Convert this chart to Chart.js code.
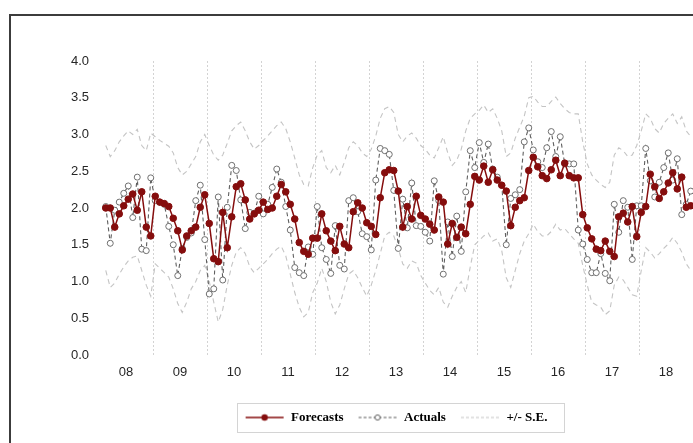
<!DOCTYPE html>
<html>
<head>
<meta charset="utf-8">
<script src="https://cdn.jsdelivr.net/npm/chart.js@4.4.1/dist/chart.umd.min.js"></script>
<style>
  html, body { margin: 0; padding: 0; background: #fff; overflow: hidden; width: 693px; height: 443px; }
  #frame { position: absolute; left: 9px; top: 14px; width: 900px; height: 600px; border: 2px solid #3c3c3c; box-sizing: border-box; pointer-events: none; }
  #wrap { position: absolute; left: 0; top: 0; width: 792px; height: 443px; }
</style>
</head>
<body>
<div id="wrap"><canvas id="c"></canvas></div>
<div id="frame"></div>
<script>
// Year tick labels (monthly data, Feb 2008 .. Dec 2018)
const yearLabels = ['08','09','10','11','12','13','14','15','16','17','18'];
const firstMonth = 1; // month index of first value (0 = Jan 2008)

const forecasts = [
  2.00, 2.00, 1.74, 1.92, 2.03, 2.12, 2.19, 1.97, 2.22, 1.74, 1.62,
  2.16, 2.08, 2.06, 2.02, 1.86, 1.69, 1.43, 1.62, 1.69, 1.74, 2.01, 2.18,
  1.79, 1.31, 1.27, 1.94, 1.46, 1.88, 2.29, 2.33, 2.11, 1.85, 1.92, 1.97,
  2.08, 1.98, 2.00, 2.16, 2.32, 2.22, 2.05, 1.85, 1.53, 1.41, 1.37, 1.59,
  1.59, 1.92, 1.69, 1.55, 1.42, 1.75, 1.51, 1.46, 1.95, 2.07, 2.00, 1.80,
  1.75, 1.64, 2.14, 2.48, 2.52, 2.51, 2.23, 1.74, 2.02, 1.85, 2.16, 1.90,
  1.85, 1.78, 1.70, 2.15, 2.08, 1.51, 1.79, 1.60, 1.74, 1.65, 2.05, 2.43,
  2.38, 2.57, 2.35, 2.52, 2.38, 2.31, 2.23, 1.76, 2.01, 2.10, 2.14, 2.51,
  2.69, 2.56, 2.44, 2.40, 2.52, 2.65, 2.44, 2.61, 2.44, 2.41, 2.41, 1.91,
  1.73, 1.58, 1.44, 1.42, 1.55, 1.41, 1.34, 1.88, 1.93, 1.81, 2.02, 1.61,
  1.94, 2.02, 2.46, 2.29, 2.13, 2.22, 2.34, 2.48, 2.26, 2.42, 2.01, 2.03
];

const actuals = [
  2.02, 1.52, 1.97, 2.08, 2.20, 2.30, 1.87, 2.42, 1.44, 1.42, 2.41,
  2.10, 2.08, 2.05, 1.75, 1.50, 1.08, 1.45, 1.60, 1.66, 2.10, 2.31, 1.57,
  0.83, 0.90, 2.15, 1.02, 2.01, 2.58, 2.51, 2.11, 1.72, 1.94, 1.93, 2.16,
  1.92, 2.05, 2.28, 2.53, 2.35, 2.02, 1.70, 1.19, 1.12, 1.08, 1.47, 1.37,
  2.02, 1.46, 1.30, 1.11, 1.76, 1.22, 1.17, 2.10, 2.14, 1.95, 1.65, 1.61,
  1.43, 2.38, 2.81, 2.78, 2.73, 2.24, 1.45, 2.12, 1.73, 2.34, 1.76, 1.75,
  1.67, 1.55, 2.37, 2.10, 1.10, 1.81, 1.34, 1.89, 1.41, 2.22, 2.78, 2.55,
  2.89, 2.62, 2.87, 2.53, 2.42, 2.31, 1.50, 2.13, 2.18, 2.25, 2.90, 3.09,
  2.79, 2.63, 2.55, 2.82, 3.04, 2.70, 2.97, 2.60, 2.60, 2.60, 1.70, 1.51,
  1.30, 1.12, 1.12, 1.38, 1.11, 1.01, 2.05, 1.67, 2.10, 2.01, 1.30, 2.03,
  2.03, 2.81, 2.37, 2.15, 2.35, 2.55, 2.75, 2.38, 2.67, 1.91, 2.05, 2.23
];

const seUpper = [
  2.85, 2.70, 2.78, 2.90, 2.98, 3.05, 3.00, 3.07, 2.85, 2.78, 3.02,
  2.97, 2.92, 2.88, 2.84, 2.75, 2.55, 2.45, 2.50, 2.60, 2.70, 2.90, 3.00,
  2.85, 2.72, 2.65, 2.72, 2.88, 3.05, 3.12, 3.17, 3.05, 2.90, 2.80, 2.85,
  2.92, 2.98, 3.05, 3.12, 3.17, 3.08, 2.90, 2.68, 2.45, 2.32, 2.30, 2.55,
  2.72, 2.78, 2.55, 2.48, 2.58, 2.45, 2.62, 2.82, 2.90, 2.85, 2.75, 2.70,
  2.80, 2.98, 3.22, 3.35, 3.38, 3.30, 3.00, 2.90, 2.98, 3.02, 2.95, 2.85,
  2.80, 2.72, 2.68, 2.82, 2.97, 2.75, 2.58, 2.65, 2.80, 3.05, 3.22, 3.28,
  3.33, 3.40, 3.30, 3.35, 3.22, 3.05, 2.70, 2.75, 2.95, 3.10, 3.25, 3.50,
  3.52, 3.44, 3.38, 3.38, 3.45, 3.51, 3.42, 3.35, 3.30, 3.28, 3.28, 2.90,
  2.60, 2.45, 2.38, 2.32, 2.28, 2.35, 2.72, 2.82, 2.78, 2.70, 2.72, 2.85,
  3.05, 3.28, 3.22, 3.08, 3.02, 3.15, 3.22, 3.28, 3.15, 3.24, 3.05, 2.97
];

const seLower = [
  1.15, 0.92, 0.98, 1.10, 1.20, 1.28, 1.33, 1.35, 1.15, 0.95, 0.80,
  1.24, 1.18, 1.12, 1.06, 0.90, 0.70, 0.58, 0.72, 0.90, 1.00, 1.15, 1.22,
  1.00, 0.72, 0.45, 0.62, 0.95, 1.22, 1.40, 1.46, 1.38, 1.20, 1.12, 1.18,
  1.24, 1.30, 1.38, 1.44, 1.48, 1.35, 1.10, 0.85, 0.65, 0.52, 0.58, 0.85,
  0.98, 1.18, 1.00, 0.72, 0.56, 0.68, 0.90, 1.10, 1.15, 1.05, 0.92, 0.80,
  0.95, 1.15, 1.38, 1.62, 1.67, 1.62, 1.45, 1.24, 1.18, 1.28, 1.25, 1.08,
  0.98, 0.88, 0.82, 0.92, 0.72, 0.65, 0.80, 0.92, 1.00, 0.85, 1.20, 1.50,
  1.56, 1.62, 1.66, 1.55, 1.58, 1.42, 1.05, 0.92, 1.15, 1.38, 1.55, 1.65,
  1.78, 1.68, 1.62, 1.62, 1.68, 1.78, 1.70, 1.72, 1.65, 1.58, 1.52, 1.22,
  0.95, 0.72, 0.68, 0.65, 0.55, 0.60, 0.95, 1.06, 1.02, 0.92, 0.82, 0.80,
  1.15, 1.46, 1.40, 1.32, 1.38, 1.45, 1.51, 1.60, 1.52, 1.40, 1.24, 1.15
];

const RED = '#850d0d';
const GREY = '#5f5f5f';
const LIGHT = '#c4c4c4';

const toXY = arr => arr.map((v, i) => ({ x: i + firstMonth, y: v }));
const nMonths = yearLabels.length * 12;

function symbol(kind) {
  const c = document.createElement('canvas');
  c.width = 40; c.height = 10;
  const g = c.getContext('2d');
  g.beginPath();
  if (kind === 'f') {
    g.strokeStyle = RED; g.lineWidth = 1.6;
    g.moveTo(1, 5); g.lineTo(39, 5); g.stroke();
    g.beginPath(); g.fillStyle = RED; g.arc(20, 5, 3.2, 0, Math.PI * 2); g.fill();
  } else if (kind === 'a') {
    g.strokeStyle = GREY; g.lineWidth = 1; g.setLineDash([3, 2]);
    g.moveTo(1, 5); g.lineTo(39, 5); g.stroke();
    g.setLineDash([]);
    g.beginPath(); g.fillStyle = '#fff'; g.arc(20, 5, 2.6, 0, Math.PI * 2); g.fill(); g.stroke();
  } else {
    g.strokeStyle = LIGHT; g.lineWidth = 1; g.setLineDash([3, 2]);
    g.moveTo(1, 5); g.lineTo(39, 5); g.stroke();
  }
  return c;
}
const symF = symbol('f'), symA = symbol('a'), symS = symbol('s');

const legendBox = {
  id: 'legendBox',
  afterDraw(chart) {
    const lg = chart.legend;
    if (!lg || !lg.legendHitBoxes || !lg.legendHitBoxes.length) return;
    const hb = lg.legendHitBoxes;
    const l = Math.min(...hb.map(h => h.left)) - 8;
    const r = Math.max(...hb.map(h => h.left + h.width)) + 16;
    const t = Math.min(...hb.map(h => h.top)) - 8;
    const b = Math.max(...hb.map(h => h.top + h.height)) + 8;
    const ctx = chart.ctx;
    ctx.save();
    ctx.strokeStyle = '#d4d4d4';
    ctx.lineWidth = 1;
    ctx.strokeRect(Math.round(l) + 0.5, Math.round(t) + 0.5, Math.round(r - l), Math.round(b - t));
    ctx.restore();
  }
};

new Chart(document.getElementById('c'), {
  type: 'line',
  data: {
    datasets: [
      {
        label: 'Forecasts', data: toXY(forecasts),
        borderColor: RED, backgroundColor: RED, borderWidth: 1.5,
        pointRadius: 3.3, pointBackgroundColor: RED, pointBorderColor: RED, pointBorderWidth: 1,
        tension: 0
      },
      {
        label: 'Actuals', data: toXY(actuals),
        borderColor: GREY, borderWidth: 1.1, borderDash: [4, 3],
        pointRadius: 3, pointBackgroundColor: '#ffffff', pointBorderColor: '#707070', pointBorderWidth: 1,
        tension: 0
      },
      {
        label: '+/- S.E.', data: toXY(seUpper),
        borderColor: LIGHT, borderWidth: 1.1, borderDash: [5, 4], pointRadius: 0, tension: 0
      },
      {
        label: '+/- S.E. lower', data: toXY(seLower),
        borderColor: LIGHT, borderWidth: 1.1, borderDash: [5, 4], pointRadius: 0, tension: 0
      }
    ]
  },
  options: {
    responsive: true,
    maintainAspectRatio: false,
    animation: false,
    layout: { padding: { left: 0, right: 0, top: 61, bottom: 9 } },
    plugins: {
      tooltip: { enabled: false },
      legend: {
        position: 'bottom',
        align: 'center',
        onClick: null,
        labels: {
          usePointStyle: true,
          pointStyleWidth: 40,
          padding: 14,
          color: '#000',
          font: { family: 'Liberation Serif', weight: 'bold', size: 13 },
          generateLabels: () => [
            { text: 'Forecasts', pointStyle: symF, fillStyle: 'rgba(0,0,0,0)', strokeStyle: 'rgba(0,0,0,0)', lineWidth: 0, hidden: false, datasetIndex: 0, fontColor: '#000' },
            { text: 'Actuals', pointStyle: symA, fillStyle: 'rgba(0,0,0,0)', strokeStyle: 'rgba(0,0,0,0)', lineWidth: 0, hidden: false, datasetIndex: 1, fontColor: '#000' },
            { text: '+/- S.E.', pointStyle: symS, fillStyle: 'rgba(0,0,0,0)', strokeStyle: 'rgba(0,0,0,0)', lineWidth: 0, hidden: false, datasetIndex: 2, fontColor: '#000' }
          ]
        }
      }
    },
    scales: {
      x: {
        type: 'linear', position: 'bottom',
        min: -0.5, max: nMonths - 0.5,
        grid: { display: false, drawTicks: false },
        border: { display: false },
        afterBuildTicks: s => { s.ticks = yearLabels.map((_, k) => ({ value: 5.5 + 12 * k })); },
        afterFit: s => { s.height = 42; },
        ticks: {
          autoSkip: false, maxRotation: 0, padding: 10,
          color: '#262626', font: { family: 'Liberation Sans', size: 13 },
          callback: v => yearLabels[Math.round((v - 5.5) / 12)]
        }
      },
      xg: {
        type: 'linear', position: 'top',
        min: -0.5, max: nMonths - 0.5,
        grid: { display: true, drawTicks: false, color: '#d3d3d3', lineWidth: 1 },
        border: { display: false, dash: [2, 2] },
        afterBuildTicks: s => { s.ticks = yearLabels.slice(1).map((_, k) => ({ value: 11.5 + 12 * k })); },
        afterFit: s => { s.height = 0; },
        ticks: { display: false }
      },
      y: {
        min: 0, max: 4,
        grid: { display: false, drawTicks: false },
        border: { display: false },
        afterFit: s => { s.width = 99; },
        ticks: {
          stepSize: 0.5, padding: 10,
          color: '#262626', font: { family: 'Liberation Sans', size: 13 },
          callback: v => Number(v).toFixed(1)
        }
      },
      yr: {
        position: 'right', min: 0, max: 4,
        grid: { display: false, drawTicks: false },
        border: { display: false },
        ticks: { display: false },
        afterFit: s => { s.width = 99; }
      }
    }
  },
  plugins: [legendBox]
});
</script>
</body>
</html>
